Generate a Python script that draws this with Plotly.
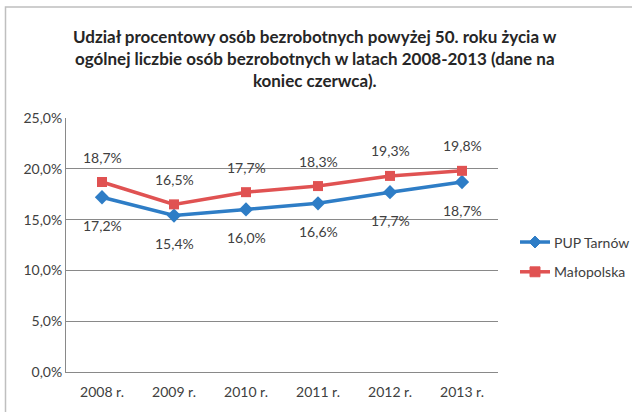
import plotly.graph_objects as go

categories = ["2008 r.", "2009 r.", "2010 r.", "2011 r.", "2012 r.", "2013 r."]
pup_tarnow = [17.2, 15.4, 16.0, 16.6, 17.7, 18.7]
malopolska = [18.7, 16.5, 17.7, 18.3, 19.3, 19.8]
series_names = ["PUP Tarnów", "Małopolska"]
y_ticks = [0, 5, 10, 15, 20, 25]
y_tick_labels = ["0,0%", "5,0%", "10,0%", "15,0%", "20,0%", "25,0%"]

BLUE = "#2E7DC6"
RED = "#E05252"
FONT = "Lato, Carlito, sans-serif"
TXT = "#404040"

# plot-area geometry in pixels
L, R, T, B = 66, 498, 118, 374
W, H = R - L, B - T

def px(x):
    return (x - L) / W

def py(y):
    return (B - y) / H

fig = go.Figure()
fig.add_trace(go.Scatter(
    x=categories, y=pup_tarnow, name=series_names[0], mode="lines+markers",
    line=dict(color=BLUE, width=3.5),
    marker=dict(symbol="diamond", size=11, color=BLUE),
))
fig.add_trace(go.Scatter(
    x=categories, y=malopolska, name=series_names[1], mode="lines+markers",
    line=dict(color=RED, width=3.5),
    marker=dict(symbol="square", size=10, color=RED),
))

def fmt(v):
    return f"{v:.1f}%".replace(".", ",")

for c, v in zip(categories, pup_tarnow):
    fig.add_annotation(x=c, y=v, text=fmt(v), showarrow=False, yshift=-28,
                       font=dict(family=FONT, size=14, color=TXT))
for c, v in zip(categories, malopolska):
    fig.add_annotation(x=c, y=v, text=fmt(v), showarrow=False, yshift=25,
                       font=dict(family=FONT, size=14, color=TXT))

fig.add_annotation(
    xref="paper", yref="paper", x=px(315), y=py(58),
    text="<b>Udział procentowy osób bezrobotnych powyżej 50. roku życia w<br>"
         "ogólnej liczbie osób bezrobotnych w latach 2008-2013 (dane na<br>"
         "koniec czerwca).</b>",
    showarrow=False, align="center", xanchor="center", yanchor="middle",
    font=dict(family=FONT, size=17, color="#262626"),
)

# outer chart frame
fig.add_shape(type="rect", xref="paper", yref="paper",
              x0=px(5.5), x1=px(640), y0=py(420), y1=py(6),
              line=dict(color="#BFBFBF", width=1.5), layer="below")

# manual legend (to keep the plot area at full width)
leg_y = [243, 273]
for name, color, sym, yy in zip(series_names, [BLUE, RED], ["diamond", "square"], leg_y):
    fig.add_shape(type="line", xref="paper", yref="paper",
                  x0=px(520), x1=px(550), y0=py(yy), y1=py(yy),
                  line=dict(color=color, width=3.5))
    if sym == "diamond":
        d = 6
        path = (f"M {px(535 - d)} {py(yy)} L {px(535)} {py(yy - d)} "
                f"L {px(535 + d)} {py(yy)} L {px(535)} {py(yy + d)} Z")
        fig.add_shape(type="path", xref="paper", yref="paper", path=path,
                      fillcolor=color, line=dict(color=color, width=1))
    else:
        s = 5
        fig.add_shape(type="rect", xref="paper", yref="paper",
                      x0=px(535 - s), x1=px(535 + s), y0=py(yy + s), y1=py(yy - s),
                      fillcolor=color, line=dict(color=color, width=1))
    fig.add_annotation(xref="paper", yref="paper", x=px(552), y=py(yy),
                       text=name, showarrow=False, xanchor="left", yanchor="middle",
                       font=dict(family=FONT, size=14, color=TXT))

fig.update_layout(
    width=632, height=412,
    margin=dict(l=L, r=632 - R, t=T, b=412 - B),
    paper_bgcolor="white", plot_bgcolor="white",
    font=dict(family=FONT, size=14, color=TXT),
    showlegend=False,
)
fig.update_xaxes(
    type="category", showgrid=False, showline=True, linecolor="#898989",
    linewidth=1, ticks="", tickfont=dict(family=FONT, size=14, color=TXT),
    range=[-0.5, 5.5], ticklabelstandoff=7,
)
fig.update_yaxes(
    range=[0, 25], tickvals=y_ticks, ticktext=y_tick_labels,
    showgrid=True, gridcolor="#898989", gridwidth=1,
    showline=True, linecolor="#898989", linewidth=1,
    zeroline=False, ticks="", ticklen=0,
    tickfont=dict(family=FONT, size=14, color=TXT),
)

fig.write_html("out.html", config={"displayModeBar": False},
               post_script="document.body.style.margin='0';")
